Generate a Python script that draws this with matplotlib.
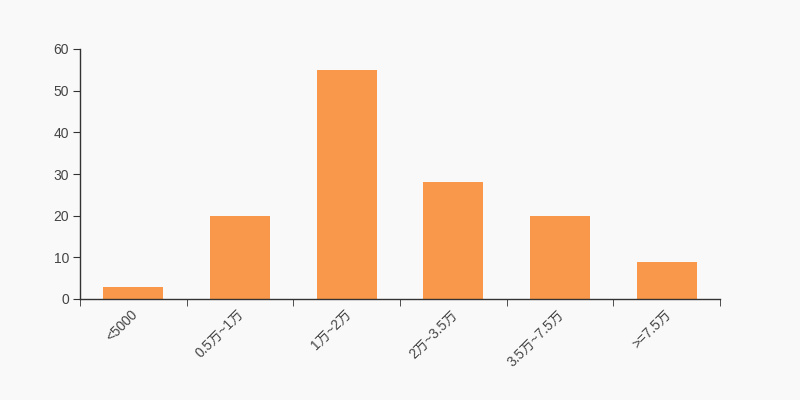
import matplotlib
matplotlib.use("Agg")
import matplotlib.pyplot as plt
import matplotlib.transforms as mtransforms
import numpy as np

categories = ["<5000", "0.5万~1万", "1万~2万", "2万~3.5万", "3.5万~7.5万", ">=7.5万"]
values = [3, 20, 55, 28, 20, 9]
yticks = [0, 10, 20, 30, 40, 50, 60]

plt.rcParams['font.family'] = ['Liberation Sans', 'Noto Sans CJK SC', 'DejaVu Sans']

fig = plt.figure(figsize=(8, 4), dpi=100)
fig.patch.set_facecolor('#f9f9f9')
ax = fig.add_axes([0.1, 0.2525, 0.8, 0.625])
ax.set_facecolor('#f9f9f9')

x = np.arange(len(categories))
ax.bar(x, values, width=0.5625, color='#f9984a', zorder=2)

ax.set_xlim(-0.5, len(categories) - 0.5)
ax.set_ylim(0, 60)
ax.set_yticks(yticks)
ax.set_yticklabels([str(v) for v in yticks], fontsize=10, color='#444444')

ax.set_xticks(x)
ax.set_xticklabels(categories, fontsize=9.8, color='#444444', rotation=45,
                   ha='right', va='top', rotation_mode='anchor')
ax.tick_params(axis='x', which='major', length=0, pad=6)
offset = mtransforms.ScaledTranslation(-3 / 100, 0, fig.dpi_scale_trans)
for lbl in ax.get_xticklabels():
    lbl.set_transform(lbl.get_transform() + offset)
ax.set_xticks(np.arange(-0.5, len(categories), 1.0), minor=True)
ax.tick_params(axis='x', which='minor', length=5, color='#333333')
ax.tick_params(axis='y', length=5, color='#333333', pad=3)

for s in ['top', 'right']:
    ax.spines[s].set_visible(False)
for s in ['left', 'bottom']:
    ax.spines[s].set_color('#333333')
    ax.spines[s].set_linewidth(1)

fig.savefig('out.png', dpi=100, facecolor=fig.get_facecolor())
